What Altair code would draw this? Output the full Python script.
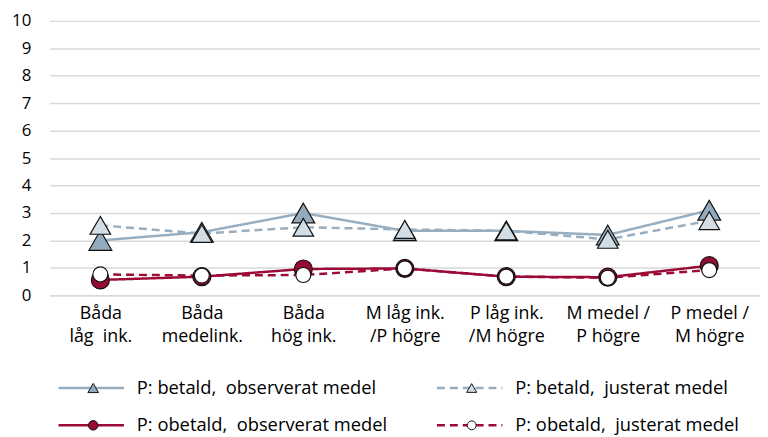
import altair as alt
import pandas as pd

categories = ["Båda\nlåg \u00a0ink.", "Båda\nmedelink.", "Båda\nhög ink.", "M låg ink.\n/P högre",
              "P låg ink.\n/M högre", "M medel /\nP högre", "P medel /\nM högre"]
series_names = ["P: betald, \u00a0observerat medel", "P: betald, \u00a0justerat medel",
                "P: obetald, \u00a0observerat medel", "P: obetald, \u00a0justerat medel"]
betald_obs = [2.0, 2.3, 3.0, 2.35, 2.35, 2.2, 3.1]
betald_just = [2.55, 2.25, 2.48, 2.4, 2.35, 2.04, 2.72]
obetald_obs = [0.56, 0.68, 0.96, 0.98, 0.68, 0.66, 1.08]
obetald_just = [0.76, 0.72, 0.74, 0.98, 0.68, 0.64, 0.92]
y_ticks = list(range(0, 11))

BLUE = "#97aec0"
RED = "#9b0b35"
series_colors = [BLUE, BLUE, RED, RED]
series_dash = [[1, 0], [8, 5], [1, 0], [8, 5]]
series_shapes = ["triangle-up", "triangle-up", "circle", "circle"]
series_fill = ["#94abbd", "#d3dde5", "#990a33", "#ffffff"]
series_size = [530, 230, 350, 180]
legend_size = [115, 80, 95, 70]
FONT = "Open Sans"

rows = []
for name, vals in zip(series_names, [betald_obs, betald_just, obetald_obs, obetald_just]):
    for c, v in zip(categories, vals):
        rows.append({"cat": c, "series": name, "value": v})
df = pd.DataFrame(rows)
# draw observed markers first, adjusted on top
df_pts = pd.concat([df[df.series.str.contains("observerat")], df[df.series.str.contains("justerat")]])

x_enc = alt.X("cat:N", sort=categories, scale=alt.Scale(domain=categories, padding=0.5),
              axis=alt.Axis(title=None, labelAngle=0, labelExpr="split(datum.label, '\\n')",
                            labelFont=FONT, labelFontSize=18, labelColor="#000000", labelLineHeight=24,
                            labelPadding=9, ticks=False, domainColor="#d9d9d9", domainWidth=1.5,
                            labelAlign="center", labelBaseline="top"))
y_enc = alt.Y("value:Q", scale=alt.Scale(domain=[0, 10], nice=False),
              axis=alt.Axis(title=None, values=y_ticks, grid=True, gridColor="#d9d9d9", gridWidth=1.5,
                            domain=False, ticks=False, labelFont=FONT, labelFontSize=17,
                            labelColor="#000000", labelPadding=19))

color_s = alt.Scale(domain=series_names, range=series_colors)
dash_s = alt.Scale(domain=series_names, range=series_dash)
shape_s = alt.Scale(domain=series_names, range=series_shapes)
fill_s = alt.Scale(domain=series_names, range=series_fill)

lines = alt.Chart(df).mark_line(strokeWidth=2.5).encode(
    x=x_enc, y=y_enc,
    color=alt.Color("series:N", scale=color_s, legend=None),
    strokeDash=alt.StrokeDash("series:N", scale=dash_s, legend=None),
    detail="series:N",
)
points = alt.Chart(df_pts).mark_point(filled=True, stroke="#111111", strokeWidth=1.2, opacity=1).encode(
    x=x_enc, y=y_enc,
    shape=alt.Shape("series:N", scale=shape_s, legend=None),
    fill=alt.Fill("series:N", scale=fill_s, legend=None),
    size=alt.Size("series:N", scale=alt.Scale(domain=series_names, range=series_size), legend=None),
)
main = alt.layer(lines, points).properties(width=717, height=277)

# custom legend (layout positions only)
leg_x0 = [9, 391, 9, 391]
leg_row = [0.5, 0.5, 1.5, 1.5]
leg = pd.DataFrame({
    "series": series_names,
    "x0": leg_x0,
    "x1": [v + 66 for v in leg_x0],
    "xm": [v + 35 for v in leg_x0],
    "xt": [v + 79 for v in leg_x0],
    "row": leg_row,
})
lx = alt.Scale(domain=[0, 717], nice=False)
ly = alt.Scale(domain=[0.3, 1.6], reverse=True, nice=False)
leg_lines = alt.Chart(leg).mark_rule(strokeWidth=2.5).encode(
    x=alt.X("x0:Q", scale=lx, axis=None), x2="x1:Q",
    y=alt.Y("row:Q", scale=ly, axis=None),
    color=alt.Color("series:N", scale=color_s, legend=None),
    strokeDash=alt.StrokeDash("series:N", scale=dash_s, legend=None),
)
leg_pts = alt.Chart(leg).mark_point(filled=True, stroke="#111111", strokeWidth=1, opacity=1).encode(
    x=alt.X("xm:Q", scale=lx, axis=None),
    y=alt.Y("row:Q", scale=ly, axis=None),
    shape=alt.Shape("series:N", scale=shape_s, legend=None),
    fill=alt.Fill("series:N", scale=fill_s, legend=None),
    size=alt.Size("series:N", scale=alt.Scale(domain=series_names, range=legend_size), legend=None),
)
leg_text = alt.Chart(leg).mark_text(align="left", baseline="middle", font=FONT, fontSize=18.5, color="#000000").encode(
    x=alt.X("xt:Q", scale=lx, axis=None),
    y=alt.Y("row:Q", scale=ly, axis=None),
    text="series:N",
)
legend = alt.layer(leg_lines, leg_pts, leg_text).properties(width=717, height=49)

chart = alt.vconcat(main, legend, spacing=33).resolve_scale(
    size="independent", x="independent", y="independent"
).properties(
    padding={"left": 3, "top": 2, "right": 0, "bottom": 0},
    background="#ffffff",
).configure_view(strokeWidth=0, stroke="transparent")

chart.save("out.html", embed_options={"renderer": "svg", "actions": False})
